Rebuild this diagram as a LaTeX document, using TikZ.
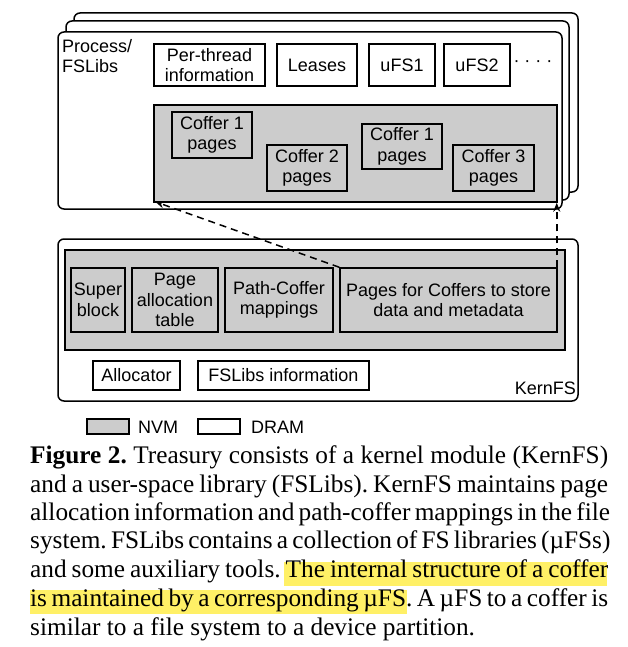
\documentclass[tikz,border=0pt]{standalone}
\usepackage{fontspec}
\setmainfont{Liberation Serif}
\newfontfamily\diagfont{Liberation Sans}
\usetikzlibrary{arrows.meta}
\definecolor{nvmgray}{RGB}{204,204,204}
\definecolor{hl}{RGB}{255,240,102}
\begin{document}
\begin{tikzpicture}[x=1pt,y=-1pt,
  every node/.style={font=\diagfont\fontsize{18}{20.5}\selectfont, inner sep=0pt},
  dram/.style={draw, line width=1.5pt, fill=white, align=center},
  nvm/.style={draw, line width=1.5pt, fill=nvmgray, align=center},
  outerbox/.style={draw, line width=1.5pt, fill=white, rounded corners=6pt},
  dasharrow/.style={line width=1.5pt, dash pattern=on 7pt off 5pt, -{Stealth[length=9pt,width=7pt]}},
  captline/.style={anchor=base west, font=\rmfamily\frenchspacing\fontsize{25.3}{28.7}\selectfont}
]
\useasboundingbox (0,0) rectangle (628,647);

% ---- Process / FSLibs stack
\node[outerbox, minimum width=504pt, minimum height=179pt] (procback) at (326,102.5) {};
\node[outerbox, minimum width=503pt, minimum height=179pt] (procmid) at (317.5,110.5) {};
\node[outerbox, minimum width=504pt, minimum height=177pt] (procfront) at (310,120.5) {};
\node[anchor=north west, align=left] (proclabel) at (62,39) {Process/\\FSLibs};

\node[dram, minimum width=111pt, minimum height=42pt] (perthread) at (209.5,65) {Per-thread\\information};
\node[dram, minimum width=80pt, minimum height=42pt] (leases) at (317,65) {Leases};
\node[dram, minimum width=66pt, minimum height=42pt] (ufs1) at (402,65) {uFS1};
\node[dram, minimum width=66pt, minimum height=42pt] (ufs2) at (477,65) {uFS2};
\node (dots) at (533,64) {· · · ·};

\node[nvm, minimum width=403pt, minimum height=97pt] (coffers) at (355.5,153.5) {};
\node[nvm, minimum width=80pt, minimum height=46pt] (cofa) at (212,135) {Coffer 1\\pages};
\node[nvm, minimum width=80pt, minimum height=46pt] (cofb) at (307,168) {Coffer 2\\pages};
\node[nvm, minimum width=80pt, minimum height=45pt] (cofc) at (402,146.5) {Coffer 1\\pages};
\node[nvm, minimum width=81pt, minimum height=46pt] (cofd) at (493.5,168) {Coffer 3\\pages};

% ---- KernFS
\node[outerbox, minimum width=520pt, minimum height=162pt] (kern) at (318,320) {};
\node[nvm, minimum width=500pt, minimum height=100pt] (nvmarea) at (315,300) {};
\node[nvm, minimum width=54pt, minimum height=64pt] (superblk) at (98,300) {Super\\block};
\node[nvm, minimum width=86pt, minimum height=64pt] (pat) at (175,300) {Page\\allocation\\table};
\node[nvm, minimum width=108pt, minimum height=64pt] (pcm) at (279,300) {Path-Coffer\\mappings};
\node[nvm, minimum width=217pt, minimum height=64pt] (pages) at (448.5,300) {Pages for Coffers to store\\data and metadata};
\node[dram, minimum width=87pt, minimum height=29pt] (alloc) at (136.5,375.5) {Allocator};
\node[dram, minimum width=171pt, minimum height=29pt] (fsinfo) at (283.5,375.5) {FSLibs information};
\node[anchor=base east] (kernlabel) at (576,394) {KernFS};

% ---- arrows
\draw[dasharrow] (pages.north west) -- ([shift={(2pt,1pt)}]coffers.south west);
\draw[dasharrow] ([xshift=-1pt]pages.north east) -- ([xshift=-1pt]coffers.south east);

% ---- legend
\node[nvm, minimum width=42pt, minimum height=15pt] (nvmkey) at (108,426.5) {};
\node[anchor=base west] (nvmtext) at (138,433) {NVM};
\node[dram, minimum width=42pt, minimum height=15pt] (dramkey) at (219,426.5) {};
\node[anchor=base west] (dramtext) at (251,433) {DRAM};

% ---- caption
\fill[hl] (284,562) rectangle (607,586);
\fill[hl] (30,590) rectangle (407,614);
\node[captline] (c1) at (30,463) {\hbox to 578pt{\textbf{Figure 2.} Treasury consists of a kernel module (KernFS)}};
\node[captline] (c2) at (30,492) {\hbox to 578pt{and a user-space library (FSLibs). KernFS maintains page}};
\node[captline] (c3) at (30,520) {\hbox to 578pt{allocation information and path-coffer mappings in the file}};
\node[captline] (c4) at (30,548) {\hbox to 578pt{system. FSLibs contains a collection of FS libraries (µFSs)}};
\node[captline] (c5) at (30,577) {\hbox to 578pt{and some auxiliary tools. The internal structure of a coffer}};
\node[captline] (c6) at (30,606) {\hbox to 578pt{is maintained by a corresponding µFS. A µFS to a coffer is}};
\node[captline] (c7) at (30,635) {similar to a file system to a device partition.};
\end{tikzpicture}
\end{document}
